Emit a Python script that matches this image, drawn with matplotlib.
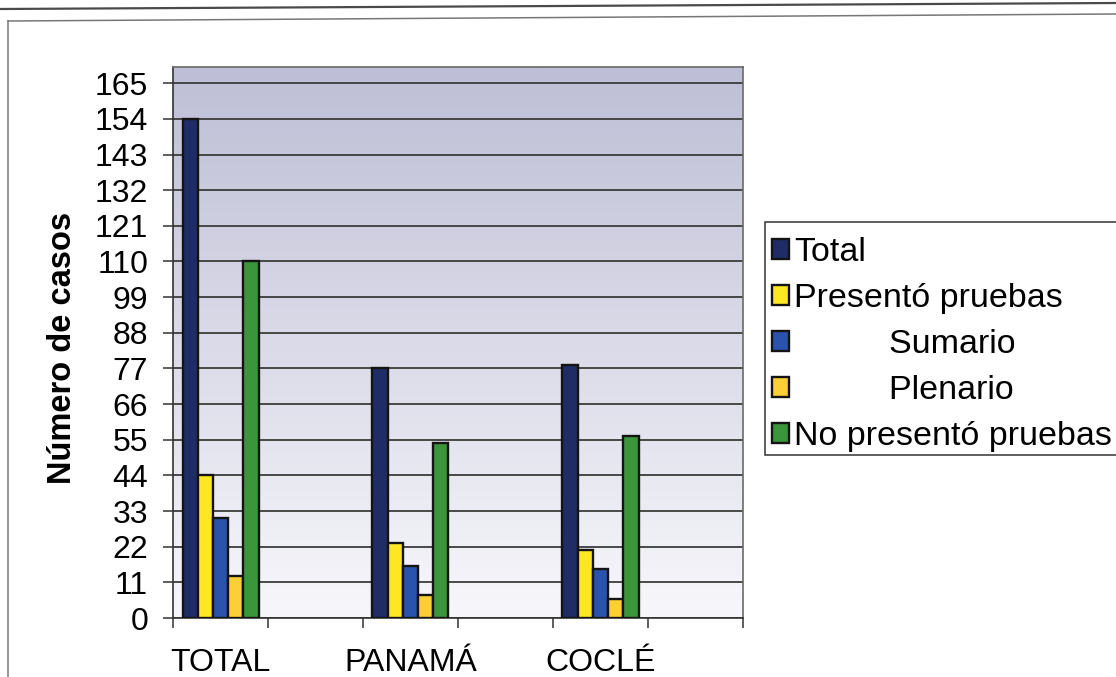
import numpy as np
import matplotlib
matplotlib.use("Agg")
import matplotlib.pyplot as plt
from matplotlib.patches import Rectangle
from matplotlib.lines import Line2D

plt.rcParams['font.family'] = ['Liberation Sans', 'DejaVu Sans']

# cases per region
regions = ["TOTAL", "PANAMÁ", "COCLÉ"]
series = ["Total", "Presentó pruebas", "          Sumario", "          Plenario",
          "No presentó pruebas"]
total = [154, 77, 78]
presento = [44, 23, 21]
sumario = [31, 16, 15]
plenario = [13, 7, 6]
no_presento = [110, 54, 56]
colors = ["#1f2d66", "#fde723", "#2a53ad", "#fbcf35", "#3b963b"]
yticks = list(range(0, 166, 11))

W, H = 1116, 677
fig = plt.figure(figsize=(W / 100, H / 100), dpi=100)
fig.patch.set_facecolor("white")

ax = fig.add_axes([173 / W, 1 - 618 / H, 570 / W, (618 - 67) / H])

# shaded plot area, lavender at the top fading to near white
grad = np.linspace(1, 0, 256).reshape(-1, 1)
top = np.array([190, 190, 214]) / 255
bot = np.array([247, 247, 251]) / 255
img = bot + (top - bot) * grad[..., None]
ax.imshow(img, extent=[0, 1, 0, 1], transform=ax.transAxes, aspect="auto",
          zorder=0, interpolation="bilinear")

# categories sit in every other slot, like the original sheet
xpos = np.array([0, 2, 4])
width = 0.16
data = [total, presento, sumario, plenario, no_presento]
handles = []
for i, (vals, c) in enumerate(zip(data, colors)):
    b = ax.bar(xpos + (i - 2) * width, vals, width, color=c,
               edgecolor="#141414", linewidth=1.7, zorder=3)
    handles.append(b[0])

ax.set_xlim(-0.5, 5.5)
ax.set_ylim(0, 170)
ax.set_yticks(yticks)
ax.set_yticklabels([str(v) for v in yticks])
ax.grid(axis="y", color="#3c3c3c", linewidth=1.3, zorder=1)
ax.set_axisbelow(True)

ax.set_xticks(np.arange(-0.5, 6, 1))
ax.set_xticklabels([])
ax.set_xticks(xpos, minor=True)
ax.set_xticklabels(regions, minor=True, fontsize=23, va="baseline")
ax.tick_params(axis="x", which="major", direction="out", length=7,
               width=1.1, color="#333333")
ax.tick_params(axis="x", which="minor", length=0, pad=38.5)
ax.tick_params(axis="y", direction="out", length=7, width=1.1,
               color="#333333", labelsize=23, pad=11)

for s in ["left", "bottom"]:
    ax.spines[s].set_color("#333333")
    ax.spines[s].set_linewidth(1.2)
for s in ["top", "right"]:
    ax.spines[s].set_color("#6a6a6a")
    ax.spines[s].set_linewidth(1.2)

ax.set_ylabel("Número de casos", fontsize=23.5, fontweight="bold", va="center")
ax.yaxis.set_label_coords((62 - 173) / 570, 0.491)

# legend box runs off the right edge
fig.add_artist(Rectangle((765 / W, 1 - 455 / H), 380 / W, (455 - 222) / H,
                         transform=fig.transFigure, facecolor="white",
                         edgecolor="#333333", linewidth=1.1, zorder=1))
fig.legend(handles, series, loc="upper left",
           bbox_to_anchor=(772 / W, 1 - 237 / H), frameon=False, fontsize=24.5,
           handlelength=0.5, handleheight=0.5, handletextpad=0.15,
           labelspacing=0.44, borderpad=0, borderaxespad=0)

# page rules around the chart
fig.add_artist(Line2D([0, 1], [1 - 9 / H, 1 - 3 / H], transform=fig.transFigure,
                      color="#4a4a4a", linewidth=1.6))
fig.add_artist(Line2D([8 / W, 1], [1 - 21 / H, 1 - 14 / H],
                      transform=fig.transFigure, color="#777777", linewidth=1.1))
fig.add_artist(Line2D([8 / W, 8 / W], [1 - 21 / H, 0],
                      transform=fig.transFigure, color="#777777", linewidth=1.1))

fig.savefig("out.png", dpi=100)
